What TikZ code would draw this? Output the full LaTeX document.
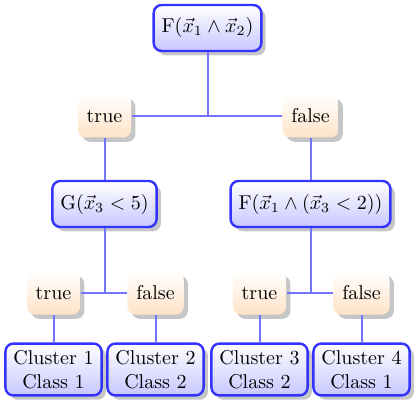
\documentclass[tikz,border=0pt]{standalone}
\usetikzlibrary{shadows}
\begin{document}
\begin{tikzpicture}[x=0.5pt,y=-0.5pt,
  decision/.style={rectangle, rounded corners=4pt, draw=blue!80, line width=1.2pt,
    top color=white, bottom color=blue!22, drop shadow={opacity=0.45},
    inner xsep=4pt, inner ysep=3.33pt, minimum height=23pt, align=center},
  leafbox/.style={decision, minimum height=0pt},
  answer/.style={rectangle, rounded corners=4pt, draw=none,
    top color=white, bottom color=orange!22, drop shadow={opacity=0.45},
    inner xsep=4.4pt, minimum height=21.5pt},
  link/.style={draw=blue!55, line width=1pt}]
\useasboundingbox (0,0) rectangle (415,400);
\node[decision] (root) at (207.5,28) {F$(\vec{x}_1 \wedge \vec{x}_2)$};
\node[answer] (t1) at (104.5,116) {true};
\node[answer] (f1) at (310.5,116) {false};
\node[decision] (g) at (104.5,204) {G$(\vec{x}_3 < 5)$};
\node[decision] (f2) at (310.5,204) {F$(\vec{x}_1 \wedge (\vec{x}_3 < 2))$};
\node[answer] (t2) at (53.5,293) {true};
\node[answer] (f3) at (155.5,293) {false};
\node[answer] (t4) at (259.5,293) {true};
\node[answer] (f5) at (361.5,293) {false};
\node[leafbox] (c1) at (53.5,369.5) {Cluster 1\\Class 1};
\node[leafbox] (c2) at (155.5,369.5) {Cluster 2\\Class 2};
\node[leafbox] (c3) at (259.5,369.5) {Cluster 3\\Class 2};
\node[leafbox] (c4) at (361.5,369.5) {Cluster 4\\Class 1};
\draw[link] (root.south) |- (t1);
\draw[link] (root.south) |- (f1);
\draw[link] (t1) -- (g);
\draw[link] (f1) -- (f2);
\draw[link] (g.south) |- (t2);
\draw[link] (g.south) |- (f3);
\draw[link] (f2.south) |- (t4);
\draw[link] (f2.south) |- (f5);
\draw[link] (t2) -- (c1);
\draw[link] (f3) -- (c2);
\draw[link] (t4) -- (c3);
\draw[link] (f5) -- (c4);
\end{tikzpicture}
\end{document}
